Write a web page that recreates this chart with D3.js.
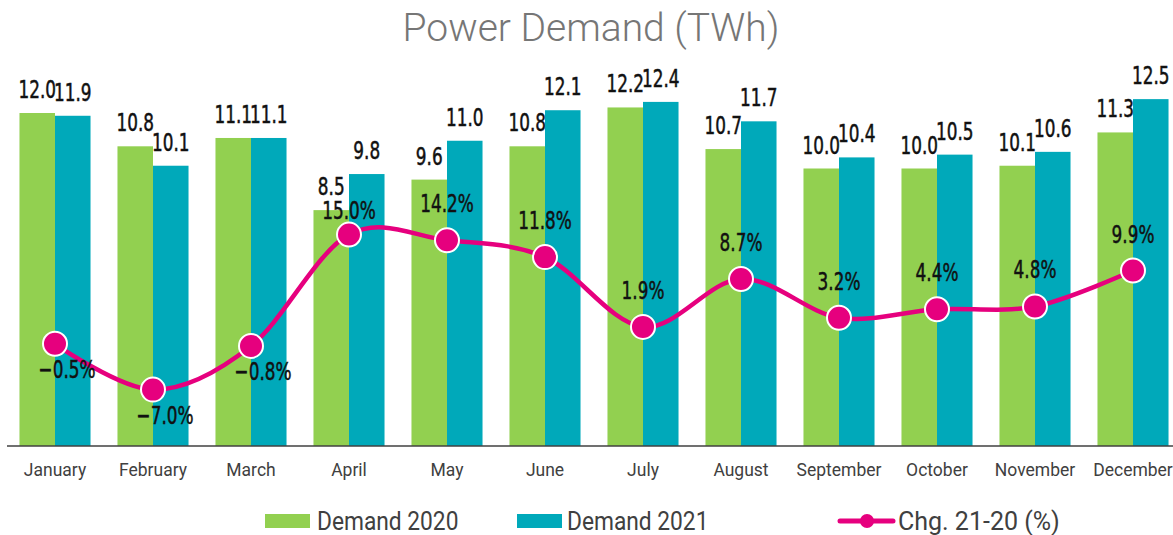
<!DOCTYPE html>
<html>
<head>
<meta charset="utf-8">
<script src="https://cdn.jsdelivr.net/npm/d3@7"></script>
<style>
	body { margin: 0; background: #fff; }
	svg { display: block; }
	.val { font-family: "DejaVu Sans Condensed", "DejaVu Sans", sans-serif; font-size: 25px; fill: #111; stroke: #111; stroke-width: 0.5px; }
	.axis-lbl { font-family: Roboto, "Noto Sans", sans-serif; font-size: 17.5px; fill: #404040; }
	.legend-lbl { font-family: Roboto, "Noto Sans", sans-serif; font-size: 25px; fill: #404040; }
</style>
</head>
<body>
<div id="chart"></div>
<script>
// values
let months     = ['January','February','March','April','May','June','July','August','September','October','November','December'];
let demand2020 = [12.0, 10.8, 11.1, 8.5, 9.6, 10.8, 12.2, 10.7, 10.0, 10.0, 10.1, 11.3];
let demand2021 = [11.9, 10.1, 11.1, 9.8, 11.0, 12.1, 12.4, 11.7, 10.4, 10.5, 10.6, 12.5];
let change     = [-0.5, -7.0, -0.8, 15.0, 14.2, 11.8, 1.9, 8.7, 3.2, 4.4, 4.8, 9.9];
let seriesNames = ['Demand 2020', 'Demand 2021', 'Chg. 21-20 (%)'];

let colors = { d20: '#92d050', d21: '#00a9ba', chg: '#e6007e' };

let width  = 1173,
	height = 535,
	baseY  = 446,
	squeeze = 0.75;   // the source font is a condensed one, so narrow the glyphs

let svg = d3.select('#chart')
	.append('svg')
	.attr('width', width)
	.attr('height', height);

let x = d3.scaleBand()
	.domain(months)
	.range([6, 1182])
	.paddingInner(0.275)
	.paddingOuter(0.1375);

let xs = d3.scaleBand()
	.domain(['d20','d21'])
	.range([0, x.bandwidth()]);

let y = d3.scaleLinear()
	.domain([0, 16])
	.range([baseY, 2]);

let y2 = d3.scaleLinear()
	.domain([-15, 48])
	.range([baseY, 2]);

let place = function(px, py, sx) {
	return 'translate(' + px + ',' + py + ') scale(' + sx + ',1)';
};

// title
svg.append('text')
	.attr('x', 591)
	.attr('y', 41)
	.attr('text-anchor', 'middle')
	.style('font-family', 'Roboto, "Noto Sans", sans-serif')
	.style('font-weight', 300)
	.style('font-size', '39px')
	.style('fill', '#767676')
	.text('Power Demand (TWh)');

let rows = months.map(function(m, i) {
	return { month: m, d20: demand2020[i], d21: demand2021[i], chg: change[i] };
});

let groups = svg.selectAll('g.month')
	.data(rows)
	.enter().append('g')
	.attr('class', 'month')
	.attr('transform', function(d) { return 'translate(' + x(d.month) + ',0)'; });

['d20','d21'].forEach(function(key) {
	groups.append('rect')
		.attr('x', xs(key))
		.attr('y', function(d) { return y(d[key]); })
		.attr('width', xs.bandwidth())
		.attr('height', function(d) { return baseY - y(d[key]); })
		.attr('fill', colors[key]);

	groups.append('text')
		.attr('class', 'val')
		.attr('transform', function(d) { return place(xs(key) + xs.bandwidth() / 2, y(d[key]) - 15, squeeze); })
		.attr('text-anchor', 'middle')
		.text(function(d) { return d3.format('.1f')(d[key]); });
});

// axis line + month labels
svg.append('line')
	.attr('x1', 7).attr('x2', 1173)
	.attr('y1', baseY).attr('y2', baseY)
	.attr('stroke', '#404040')
	.attr('stroke-width', 1.5);

svg.selectAll('text.axis-lbl')
	.data(months)
	.enter().append('text')
	.attr('class', 'axis-lbl')
	.attr('x', function(d) { return x(d) + x.bandwidth() / 2; })
	.attr('y', 476)
	.attr('text-anchor', 'middle')
	.text(function(d) { return d; });

// change line
let cx = function(d) { return x(d.month) + x.bandwidth() / 2; };

let line = d3.line()
	.x(cx)
	.y(function(d) { return y2(d.chg); })
	.curve(d3.curveCardinal.tension(0));

svg.append('path')
	.datum(rows)
	.attr('fill', 'none')
	.attr('stroke', colors.chg)
	.attr('stroke-width', 4.5)
	.attr('stroke-linejoin', 'round')
	.attr('d', line);

svg.selectAll('circle.mk')
	.data(rows)
	.enter().append('circle')
	.attr('class', 'mk')
	.attr('cx', cx)
	.attr('cy', function(d) { return y2(d.chg); })
	.attr('r', 12)
	.attr('fill', colors.chg)
	.attr('stroke', '#fff')
	.attr('stroke-width', 2);

// percent labels: above for positive, below-right for negative,
// pushed down when they would run into the bar label above
let pctY = function(d) {
	let my = y2(d.chg);
	if (d.chg < 0) return my + 34;
	let ty = my - 28;
	let barLbl = Math.max(y(d.d20), y(d.d21)) - 15;
	if (ty - 17 < barLbl + 3) ty = Math.min(my - 16, barLbl + 24);
	return ty;
};

svg.selectAll('text.pct')
	.data(rows)
	.enter().append('text')
	.attr('class', 'val pct')
	.attr('text-anchor', 'middle')
	.attr('transform', function(d) { return place(cx(d) + (d.chg < 0 ? 12 : 0), pctY(d), squeeze); })
	.text(function(d) { return d3.format('.1f')(d.chg) + '%'; });

// legend
let legend = svg.append('g').attr('transform', 'translate(0,521)');

legend.append('rect').attr('x', 265).attr('y', -7).attr('width', 45).attr('height', 14).attr('fill', colors.d20);
legend.append('text').attr('class', 'legend-lbl').attr('transform', place(317, 9, 0.91)).text(seriesNames[0]);

legend.append('rect').attr('x', 517).attr('y', -7).attr('width', 45).attr('height', 14).attr('fill', colors.d21);
legend.append('text').attr('class', 'legend-lbl').attr('transform', place(567, 9, 0.91)).text(seriesNames[1]);

legend.append('line').attr('x1', 840).attr('x2', 893).attr('y1', 0).attr('y2', 0)
	.attr('stroke', colors.chg).attr('stroke-width', 5).attr('stroke-linecap', 'round');
legend.append('circle').attr('cx', 867).attr('cy', 0).attr('r', 7).attr('fill', colors.chg);
legend.append('text').attr('class', 'legend-lbl').attr('transform', place(898, 9, 1.0)).text(seriesNames[2]);
</script>
</body>
</html>
